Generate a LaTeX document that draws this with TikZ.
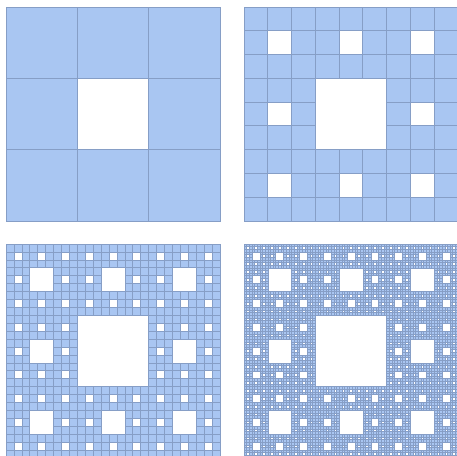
\documentclass[tikz,border=0pt]{standalone}
\usepackage{tikz}
\definecolor{cfill}{RGB}{169,198,242}
\definecolor{cline}{RGB}{134,158,198}
\newcount\ca \newcount\cb \newcount\ra \newcount\rb
\newif\ifkeep
\def\chkstep{\ra=\ca \divide\ra by 3 \rb=\cb \divide\rb by 3
 \ifnum\numexpr\ca-3*\ra\relax=1 \ifnum\numexpr\cb-3*\rb\relax=1 \keepfalse\fi\fi
 \ca=\ra \cb=\rb}
\def\checkcell#1#2{\ca=#1\relax\cb=#2\relax\keeptrue
 \loop\ifnum\numexpr\ca*\cb\relax>0 \chkstep\repeat}
\tikzset{cell/.style={fill=cfill,draw=cline,line width=0.8pt}}
% #1 x0, #2 y0, #3 n cells per side minus 1, #4 cell size, #5 line width
\newcommand\carpet[5]{%
  \foreach \i in {0,...,#3}{%
    \foreach \j in {0,...,#3}{%
      \checkcell{\i}{\j}%
      \ifkeep
        \path[cell,line width=#5] ({#1+\i*#4},{#2+\j*#4}) rectangle ++(#4,#4);
      \fi
    }%
  }%
}
\begin{document}
\begin{tikzpicture}[x=1pt,y=-1pt]
\useasboundingbox (0,0) rectangle (457,455);
\clip (0,0) rectangle (457,455);
\fill[white] (0,0) rectangle (457,455);
\carpet{6}{7}{2}{71.3333}{0.8pt}
\carpet{244}{7}{8}{23.7778}{0.8pt}
\carpet{6}{244}{26}{7.92593}{0.7pt}
\carpet{244}{244}{80}{2.64198}{0.5pt}
\end{tikzpicture}
\end{document}
